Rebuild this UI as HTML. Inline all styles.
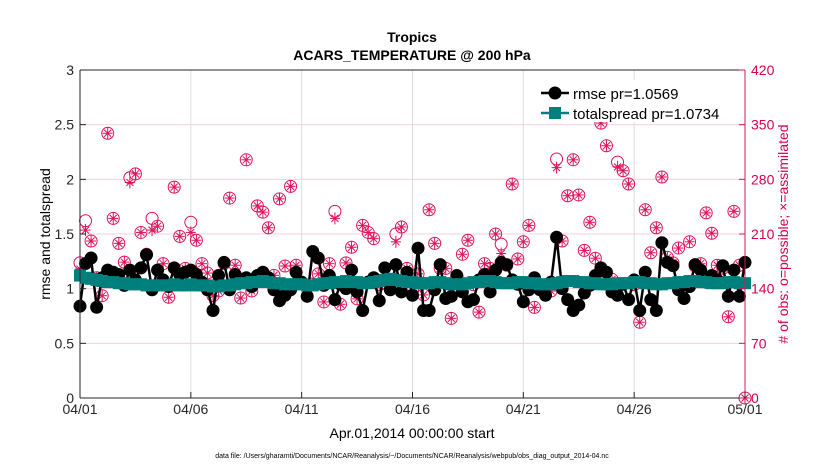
<!DOCTYPE html>
<html><head><meta charset="utf-8"><style>
body{margin:0;background:#fff;font-family:"Liberation Sans",sans-serif}
svg text{font-family:"Liberation Sans",sans-serif}
</style></head><body>
<svg id="chart" width="830" height="470" xmlns="http://www.w3.org/2000/svg">
<rect width="830" height="470" fill="#fff"/>
<g id="grid"></g>
<g id="series"></g>
<g id="axes"></g>
<text x="412" y="42" text-anchor="middle" font-size="14" font-weight="bold">Tropics</text>
<text x="412" y="60" text-anchor="middle" font-size="14" font-weight="bold">ACARS_TEMPERATURE @ 200 hPa</text>
<text x="50" y="234" text-anchor="middle" font-size="14" transform="rotate(-90 50 234)">rmse and totalspread</text>
<text x="788" y="234" text-anchor="middle" font-size="14" fill="#d6004f" transform="rotate(-90 788 234)"># of obs: o=possible; ×=assimilated</text>
<text x="412" y="438" text-anchor="middle" font-size="14">Apr.01,2014 00:00:00 start</text>
<text x="412" y="458" text-anchor="middle" font-size="7">data file: /Users/gharamti/Documents/NCAR/Reanalysis/~/Documents/NCAR/Reanalysis/webpub/obs_diag_output_2014-04.nc</text>
<g>
<rect x="532" y="80" width="210" height="42" fill="#fff"/>
<line x1="541" y1="93" x2="569" y2="93" stroke="#000" stroke-width="2.5"/>
<circle cx="555" cy="93" r="6.5" fill="#000"/>
<text x="573" y="99" font-size="15">rmse pr=1.0569</text>
<line x1="541" y1="113" x2="569" y2="113" stroke="#00807d" stroke-width="2.5"/>
<rect x="549" y="107" width="12" height="12" fill="#00807d"/>
<text x="573" y="119" font-size="15">totalspread pr=1.0734</text>
</g>
</svg>
<script>
const rmse=[0.84,1.23,1.28,0.83,1.10,1.17,1.15,1.13,1.03,1.17,1.08,1.19,1.31,0.99,1.17,1.08,1.02,1.19,1.13,1.15,1.17,1.13,1.06,0.99,0.80,1.12,1.24,0.99,1.13,1.06,1.10,1.02,1.12,1.15,1.10,0.99,0.89,0.94,0.99,1.15,1.06,0.93,1.34,1.28,1.03,1.12,0.90,1.04,1.00,1.17,0.97,0.80,1.06,1.10,0.89,1.19,0.99,1.22,0.97,1.15,0.94,1.37,0.80,0.80,0.99,1.22,0.91,0.93,1.12,0.97,0.88,0.90,1.08,1.13,0.97,1.17,1.24,1.22,1.08,1.04,0.88,0.99,1.10,0.99,0.94,1.06,1.47,1.00,0.90,0.80,0.85,0.96,1.03,1.12,1.19,1.15,0.97,0.94,1.04,0.90,1.08,0.80,1.15,0.90,0.80,1.42,1.24,1.21,0.99,0.91,1.02,1.22,1.17,1.06,1.12,1.08,1.21,0.93,1.17,0.93,1.24];
const spread=[1.12,1.10,1.09,1.08,1.07,1.06,1.06,1.05,1.05,1.04,1.04,1.04,1.03,1.03,1.03,1.03,1.03,1.04,1.03,1.03,1.04,1.03,1.03,1.03,1.02,1.02,1.03,1.03,1.04,1.05,1.05,1.06,1.06,1.07,1.06,1.05,1.05,1.04,1.04,1.04,1.04,1.03,1.03,1.04,1.05,1.05,1.06,1.06,1.07,1.06,1.06,1.05,1.05,1.06,1.07,1.08,1.09,1.08,1.07,1.06,1.06,1.05,1.05,1.05,1.06,1.06,1.05,1.04,1.04,1.04,1.05,1.06,1.06,1.07,1.07,1.06,1.05,1.05,1.05,1.06,1.06,1.05,1.05,1.04,1.04,1.04,1.05,1.06,1.07,1.07,1.06,1.06,1.05,1.05,1.04,1.04,1.04,1.05,1.05,1.05,1.06,1.06,1.05,1.05,1.04,1.04,1.05,1.05,1.06,1.06,1.07,1.07,1.06,1.06,1.05,1.05,1.05,1.06,1.06,1.05,1.05];
const obsPossible=[173,227,201,154,131,339,230,198,174,282,287,212,184,230,220,172,129,270,207,166,225,202,172,160,131,137,172,256,170,128,305,137,246,238,218,157,255,169,271,170,147,142,146,159,123,172,239,120,173,193,127,221,212,204,145,147,151,210,219,166,138,159,132,241,198,166,166,102,155,184,202,145,110,172,166,210,197,170,274,178,200,221,116,141,138,137,306,201,259,305,260,189,225,179,352,323,152,302,291,274,145,97,241,186,218,283,180,173,192,141,200,169,172,237,211,170,166,104,239,170,0];
const obsAssim=[165,215,201,154,131,339,230,198,174,276,287,212,184,215,220,172,129,270,207,166,212,202,172,160,131,137,172,256,170,128,305,137,246,238,218,157,255,169,271,170,147,142,146,159,123,172,230,120,173,193,127,221,212,204,145,147,151,200,219,166,138,159,132,241,198,166,166,102,155,184,202,145,110,172,166,210,185,170,274,178,200,221,116,141,138,137,295,201,259,305,260,189,225,179,352,323,152,296,291,274,145,97,241,186,218,283,180,173,192,141,200,169,172,237,211,170,166,104,239,170,0];
const yTicks=[0,0.5,1,1.5,2,2.5,3];
const rTicks=[0,70,140,210,280,350,420];
const xTickDays=[0,5,10,15,20,25,30];
const xTickLabels=['04/01','04/06','04/11','04/16','04/21','04/26','05/01'];
const X0=80,X1=745,Y0=398,Y1=70;
const xs=d=>X0+(X1-X0)*d/30;
const ys=v=>Y0-(Y0-Y1)*v/3;
const yr=v=>Y0-(Y0-Y1)*v/420;
const NS='http://www.w3.org/2000/svg';
function mk(p,t,a){const e=document.createElementNS(NS,t);for(const k in a)e.setAttribute(k,a[k]);p.appendChild(e);return e;}
const G=document.getElementById('grid'),S=document.getElementById('series'),A=document.getElementById('axes');
xTickDays.forEach(d=>{const l=mk(G,'line',{x1:xs(d),x2:xs(d),y1:Y1,y2:Y0,stroke:'#dcdcdc','stroke-width':1});

});
rTicks.forEach(v=>{const l=mk(G,'line',{x1:X0,x2:X1,y1:yr(v),y2:yr(v),stroke:'#f7cfe0','stroke-width':1});

});
const dt=30/(rmse.length-1);
obsPossible.forEach((v,i)=>{const x=xs(i*dt),y=yr(v);const c=mk(S,'circle',{cx:x,cy:y,r:6,fill:'none',stroke:'#e0105a','stroke-width':1});

});
obsAssim.forEach((v,i)=>{const x=xs(i*dt),y=yr(v);const g=mk(S,'g',{stroke:'#e0105a','stroke-width':1});


mk(g,'line',{x1:x-5,x2:x+5,y1:y,y2:y});mk(g,'line',{x1:x,x2:x,y1:y-6,y2:y+6});
mk(g,'line',{x1:x-3.5,x2:x+3.5,y1:y-3.5,y2:y+3.5});mk(g,'line',{x1:x-3.5,x2:x+3.5,y1:y+3.5,y2:y-3.5});});
const rl=mk(S,'polyline',{points:rmse.map((v,i)=>xs(i*dt)+','+ys(v)).join(' '),fill:'none',stroke:'#000','stroke-width':2.5});


rmse.forEach((v,i)=>{const c=mk(S,'circle',{cx:xs(i*dt),cy:ys(v),r:6.5,fill:'#000'});

});
const sl=mk(S,'polyline',{points:spread.map((v,i)=>xs(i*dt)+','+ys(v)).join(' '),fill:'none',stroke:'#00807d','stroke-width':2.5});


spread.forEach((v,i)=>{const r=mk(S,'rect',{x:xs(i*dt)-6,y:ys(v)-6,width:12,height:12,fill:'#00807d'});

});
mk(A,'line',{x1:X0,x2:X0,y1:Y1,y2:Y0,stroke:'#262626','stroke-width':1});
mk(A,'line',{x1:X0,x2:X1,y1:Y0,y2:Y0,stroke:'#262626','stroke-width':1});
mk(A,'line',{x1:X0,x2:X1,y1:Y1,y2:Y1,stroke:'#262626','stroke-width':1});
mk(A,'line',{x1:X1,x2:X1,y1:Y1,y2:Y0,stroke:'#e0105a','stroke-width':1});
yTicks.forEach(v=>{mk(A,'line',{x1:X0,x2:X0+6,y1:ys(v),y2:ys(v),stroke:'#262626'});
const t=mk(A,'text',{x:X0-6,y:ys(v)+5,'text-anchor':'end','font-size':14,fill:'#262626'});t.textContent=v;

});
rTicks.forEach(v=>{mk(A,'line',{x1:X1-6,x2:X1,y1:yr(v),y2:yr(v),stroke:'#e0105a'});
const t=mk(A,'text',{x:X1+6,y:yr(v)+5,'font-size':14,fill:'#d6004f'});t.textContent=v;

});
xTickDays.forEach((d,i)=>{mk(A,'line',{x1:xs(d),x2:xs(d),y1:Y0,y2:Y0-6,stroke:'#262626'});
const t=mk(A,'text',{x:xs(d),y:Y0+16,'text-anchor':'middle','font-size':14,fill:'#262626'});t.textContent=xTickLabels[i];

});
</script>
</body></html>
